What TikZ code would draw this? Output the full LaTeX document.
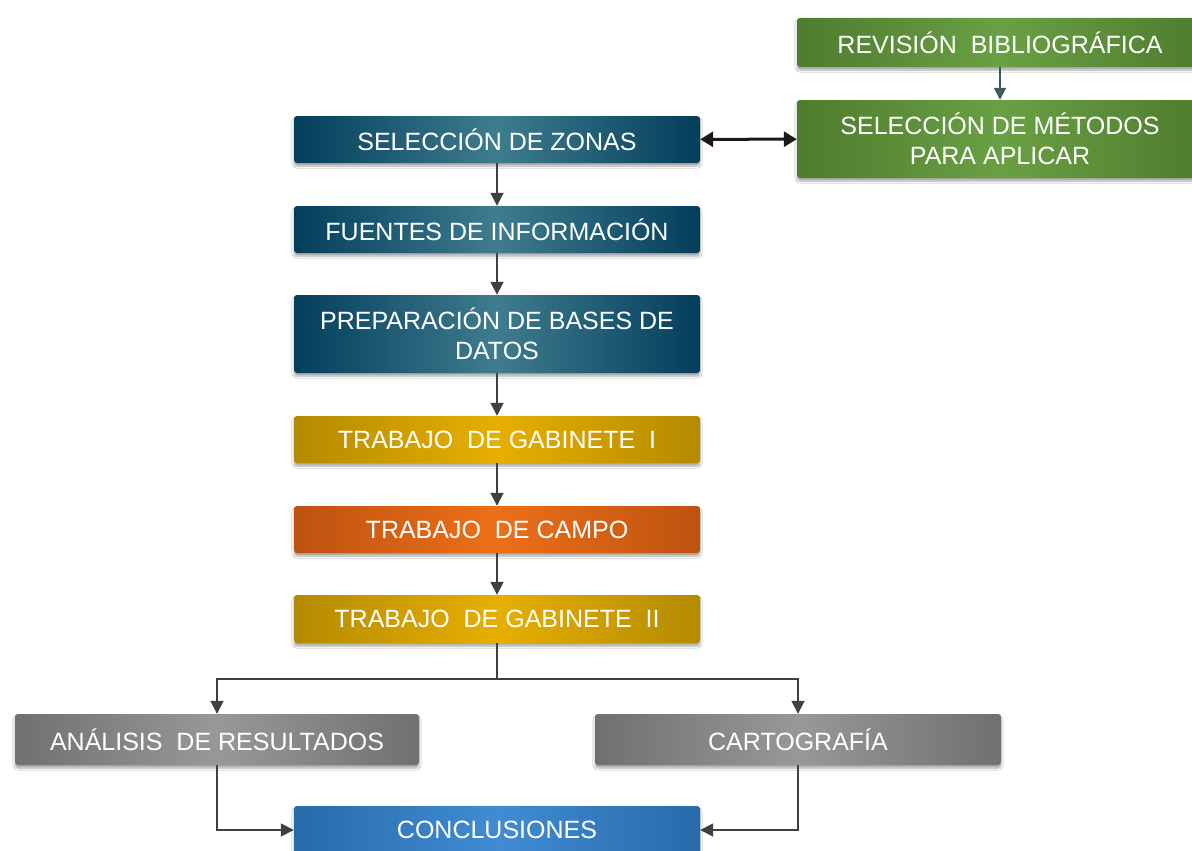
\documentclass[tikz,border=0pt]{standalone}
\usepackage{fontspec}
\setmainfont{Liberation Sans}
\usetikzlibrary{arrows.meta,shadows.blur}

\definecolor{tealdark}{RGB}{4,62,92}
\definecolor{teallight}{RGB}{62,124,142}
\definecolor{greendark}{RGB}{78,124,46}
\definecolor{greenlight}{RGB}{106,160,68}
\definecolor{golddark}{RGB}{180,138,0}
\definecolor{goldlight}{RGB}{230,175,0}
\definecolor{orangedark}{RGB}{190,82,16}
\definecolor{orangelight}{RGB}{236,112,24}
\definecolor{greydark}{RGB}{112,112,112}
\definecolor{greylight}{RGB}{152,152,152}
\definecolor{bluedark}{RGB}{40,106,170}
\definecolor{bluelight}{RGB}{64,140,210}
\definecolor{linkgrey}{RGB}{64,64,64}
\definecolor{linkteal}{RGB}{60,92,92}

\tikzset{
  box/.style={rectangle, rounded corners=3pt, minimum width=406pt, inner sep=0pt,
    text=white, align=center, font=\fontsize{25}{30}\selectfont,
    blur shadow={shadow xshift=0pt, shadow yshift=-3pt, shadow opacity=35, shadow blur steps=6}},
  tealbox/.style={box, left color=tealdark, right color=tealdark, middle color=teallight},
  greenbox/.style={box, left color=greendark, right color=greendark, middle color=greenlight},
  goldbox/.style={box, left color=golddark, right color=golddark, middle color=goldlight},
  orangebox/.style={box, left color=orangedark, right color=orangedark, middle color=orangelight},
  greybox/.style={box, left color=greydark, right color=greydark, middle color=greylight},
  bluebox/.style={box, left color=bluedark, right color=bluedark, middle color=bluelight},
  link/.style={draw=linkgrey, line width=1.8pt, -{Triangle[length=13pt,width=13pt]}},
}

\begin{document}
\begin{tikzpicture}[x=1pt,y=-1pt]
\useasboundingbox[fill=white] (0,0) rectangle (1192,851);

% right column: literature and methods
\node[greenbox, minimum height=49pt] (rev) at (1000,42.5) {REVISIÓN~ BIBLIOGRÁFICA};
\node[greenbox, minimum height=78pt] (met) at (1000,139) {SELECCIÓN DE MÉTODOS\\PARA APLICAR};

% main column
\node[tealbox, minimum height=47pt] (zon) at (497,139.5) {SELECCIÓN DE ZONAS};
\node[tealbox, minimum height=47pt] (fue) at (497,229.5) {FUENTES DE INFORMACIÓN};
\node[tealbox, minimum height=78pt] (pre) at (497,334) {PREPARACIÓN DE BASES DE\\DATOS};
\node[goldbox, minimum height=47pt] (gab1) at (497,439.5) {TRABAJO~ DE GABINETE~ I};
\node[orangebox, minimum height=47pt] (cam) at (497,529.5) {TRABAJO~ DE CAMPO};
\node[goldbox, minimum height=48pt] (gab2) at (497,619) {TRABAJO~ DE GABINETE~ II};

% results
\node[greybox, minimum width=404pt, minimum height=51pt] (ana) at (217,739.5) {ANÁLISIS~ DE RESULTADOS};
\node[greybox, minimum height=51pt] (car) at (798,739.5) {CARTOGRAFÍA};
\node[bluebox, minimum height=48pt] (con) at (497,830) {CONCLUSIONES};

\coordinate (split) at (497,679);

% connectors
\draw[draw=linkteal, line width=1.8pt, -{Triangle[length=12pt,width=12pt]}] (rev) -- (met);
\draw[draw=black!90, line width=3pt, {Triangle[length=13pt,width=15pt]}-{Triangle[length=13pt,width=15pt]}] (zon) -- (met);
\draw[link] (zon) -- (fue);
\draw[link] (fue) -- (pre);
\draw[link] (pre) -- (gab1);
\draw[link] (gab1) -- (cam);
\draw[link] (cam) -- (gab2);
\draw[draw=linkgrey, line width=1.8pt] (gab2) -- (split);
\draw[link] (split) -| (ana);
\draw[link] (split) -| (car);
\draw[link] (ana) |- (con);
\draw[link] (car) |- (con);
\end{tikzpicture}
\end{document}
